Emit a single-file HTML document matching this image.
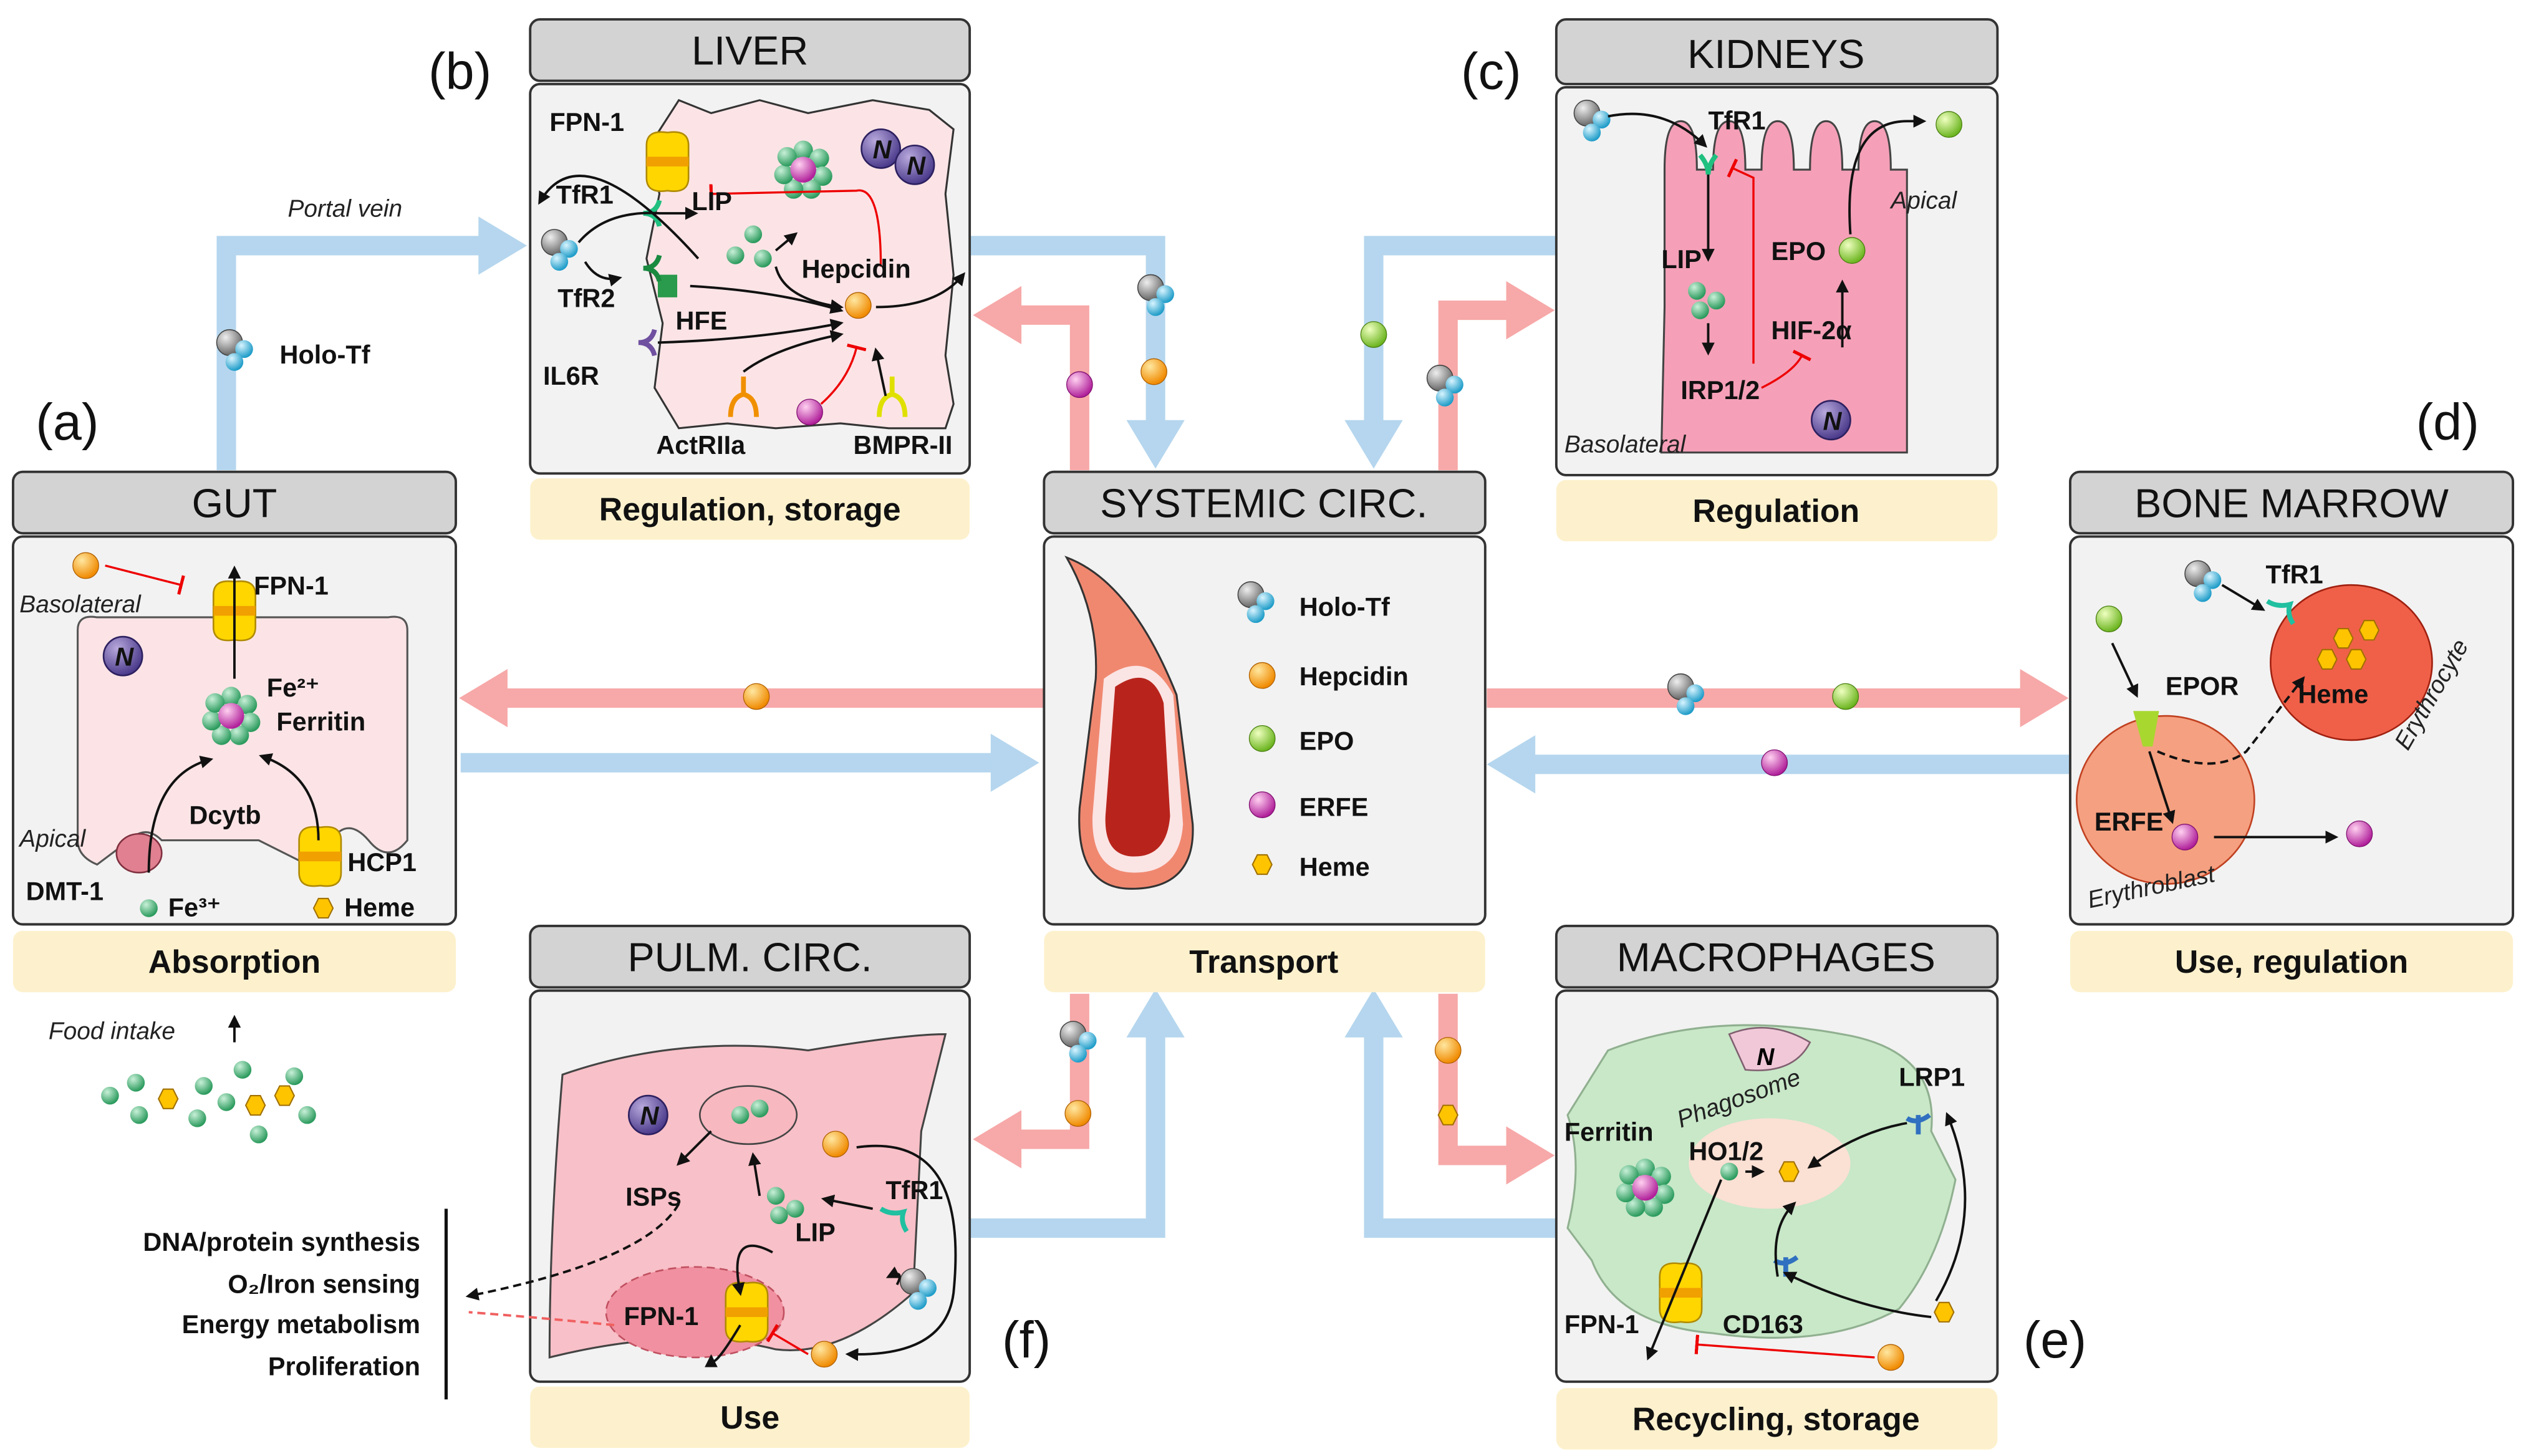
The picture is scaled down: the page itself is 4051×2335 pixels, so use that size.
<!DOCTYPE html>
<html><head><meta charset="utf-8"><style>
html,body{margin:0;padding:0;background:#fff}
svg{display:block}
text{font-family:"Liberation Sans",sans-serif}
.h{font-size:25px;fill:#111;text-anchor:middle}
.l{font-size:20px;font-weight:bold;fill:#111;text-anchor:middle}
.t{font-size:16px;font-weight:bold;fill:#111}
.i{font-size:15px;font-style:italic;fill:#222}
.p{font-size:32px;fill:#111}
</style></head><body>
<svg width="4051" height="2335" viewBox="0 0 1563 901" xmlns="http://www.w3.org/2000/svg">
<defs>
<radialGradient id="gG" cx="35%" cy="30%" r="70%"><stop offset="0" stop-color="#eee"/><stop offset="1" stop-color="#666"/></radialGradient>
<radialGradient id="gB" cx="35%" cy="30%" r="70%"><stop offset="0" stop-color="#d8f4ff"/><stop offset="1" stop-color="#1e9cc8"/></radialGradient>
<radialGradient id="gO" cx="35%" cy="30%" r="70%"><stop offset="0" stop-color="#ffe7a0"/><stop offset="1" stop-color="#f08a00"/></radialGradient>
<radialGradient id="gE" cx="35%" cy="30%" r="70%"><stop offset="0" stop-color="#efffc0"/><stop offset="1" stop-color="#6cb520"/></radialGradient>
<radialGradient id="gM" cx="35%" cy="30%" r="70%"><stop offset="0" stop-color="#ffd0f0"/><stop offset="1" stop-color="#b0209a"/></radialGradient>
<radialGradient id="gF" cx="35%" cy="30%" r="70%"><stop offset="0" stop-color="#c8f0d8"/><stop offset="1" stop-color="#2a9a5c"/></radialGradient>
<radialGradient id="gN" cx="35%" cy="30%" r="70%"><stop offset="0" stop-color="#b8a8dc"/><stop offset="1" stop-color="#4c3c8c"/></radialGradient>
<g id="holo"><circle cx="0" cy="0" r="8" fill="url(#gG)" stroke="#444" stroke-width=".6"/><circle cx="9" cy="4" r="5.5" fill="url(#gB)"/><circle cx="3" cy="12" r="5.5" fill="url(#gB)"/></g>
<g id="hep"><circle r="8" fill="url(#gO)" stroke="#b06000" stroke-width=".5"/></g>
<g id="epo"><circle r="8" fill="url(#gE)" stroke="#4a8010" stroke-width=".5"/></g>
<g id="erfe"><circle r="8" fill="url(#gM)" stroke="#801070" stroke-width=".5"/></g>
<g id="heme"><polygon points="-6,0 -3,-6 3,-6 6,0 3,6 -3,6" fill="#ffc400" stroke="#a07000" stroke-width=".8"/></g>
<g id="fe"><circle r="5.5" fill="url(#gF)"/></g>
<g id="ferr"><circle cx="0" cy="-12" r="6" fill="url(#gF)"/><circle cx="10" cy="-7" r="6" fill="url(#gF)"/><circle cx="12" cy="4" r="6" fill="url(#gF)"/><circle cx="5" cy="12" r="6" fill="url(#gF)"/><circle cx="-6" cy="12" r="6" fill="url(#gF)"/><circle cx="-12" cy="3" r="6" fill="url(#gF)"/><circle cx="-10" cy="-8" r="6" fill="url(#gF)"/><circle r="8" fill="url(#gM)"/></g>
<g id="nuc"><ellipse rx="12" ry="12" fill="url(#gN)" stroke="#2c2060"/><text x="-5" y="6" font-size="16" font-weight="bold" font-style="italic" fill="#111">N</text></g>
<g id="fpn"><path d="M-13,-10 Q-13,-20 0,-18 Q13,-20 13,-10 L13,10 Q13,20 0,18 Q-13,20 -13,10Z" fill="#ffd600" stroke="#b08a00"/><rect x="-13" y="-3" width="26" height="6" fill="#f0a000"/></g>
<marker id="ah" markerWidth="8" markerHeight="8" refX="6" refY="4" orient="auto" markerUnits="userSpaceOnUse"><path d="M0,0 L8,4 L0,8Z" fill="#111"/></marker>
<marker id="tb" markerWidth="2" markerHeight="12" refX="1" refY="6" orient="auto" markerUnits="userSpaceOnUse"><rect width="2" height="12" fill="#e00"/></marker>
</defs>

<!-- big arrows -->
<g fill="none" stroke-width="12">
<path d="M140,291 V152 H300" stroke="#b5d6ee"/>
<path d="M600,152 H715 V262" stroke="#b5d6ee"/>
<path d="M668,291 V195 H630" stroke="#f7a8a8"/>
<path d="M963,152 H850 V262" stroke="#b5d6ee"/>
<path d="M896,291 V192 H935" stroke="#f7a8a8"/>
<path d="M646,432 H312" stroke="#f7a8a8"/>
<path d="M285,472 H615" stroke="#b5d6ee"/>
<path d="M920,432 H1252" stroke="#f7a8a8"/>
<path d="M1281,473 H948" stroke="#b5d6ee"/>
<path d="M668,615 V705 H630" stroke="#f7a8a8"/>
<path d="M600,760 H715 V640" stroke="#b5d6ee"/>
<path d="M896,615 V715 H935" stroke="#f7a8a8"/>
<path d="M963,760 H850 V640" stroke="#b5d6ee"/>
</g>
<g>
<polygon points="296,134 326,152 296,170" fill="#b5d6ee"/>
<polygon points="697,260 733,260 715,290" fill="#b5d6ee"/>
<polygon points="632,177 602,195 632,213" fill="#f7a8a8"/>
<polygon points="832,260 868,260 850,290" fill="#b5d6ee"/>
<polygon points="932,174 962,192 932,210" fill="#f7a8a8"/>
<polygon points="314,414 284,432 314,450" fill="#f7a8a8"/>
<polygon points="613,454 643,472 613,490" fill="#b5d6ee"/>
<polygon points="1250,414 1280,432 1250,450" fill="#f7a8a8"/>
<polygon points="950,455 920,473 950,491" fill="#b5d6ee"/>
<polygon points="632,687 602,705 632,723" fill="#f7a8a8"/>
<polygon points="697,642 715,612 733,642" fill="#b5d6ee"/>
<polygon points="932,697 962,715 932,733" fill="#f7a8a8"/>
<polygon points="832,642 850,612 868,642" fill="#b5d6ee"/>
</g>
<text x="178" y="134" class="i" font-size="17">Portal vein</text>
<use href="#holo" x="142" y="212"/><text x="173" y="225" class="t" font-size="18">Holo-Tf</text>
<use href="#holo" x="712" y="178"/><use href="#erfe" x="668" y="238"/><use href="#hep" x="714" y="230"/>
<use href="#epo" x="850" y="207"/><use href="#holo" x="891" y="234"/>
<use href="#hep" x="468" y="431"/>
<use href="#holo" x="1040" y="425"/><use href="#epo" x="1142" y="431"/><use href="#erfe" x="1098" y="472"/>
<use href="#holo" x="664" y="640"/><use href="#hep" x="667" y="689"/>
<use href="#hep" x="896" y="650"/><use href="#heme" x="896" y="690"/>

<!-- panel letters -->
<text x="265" y="55" class="p">(b)</text>
<text x="904" y="55" class="p">(c)</text>
<text x="22" y="272" class="p">(a)</text>
<text x="1495" y="272" class="p">(d)</text>
<text x="620" y="840" class="p">(f)</text>
<text x="1252" y="840" class="p">(e)</text>

<!-- panels -->
<g stroke="#333" stroke-width="1.5">
<rect x="328" y="12" width="272" height="38" rx="6" fill="#d3d3d3"/>
<rect x="328" y="52" width="272" height="241" rx="6" fill="#f2f2f2"/>
<rect x="963" y="12" width="273" height="40" rx="6" fill="#d3d3d3"/>
<rect x="963" y="54" width="273" height="240" rx="6" fill="#f2f2f2"/>
<rect x="8" y="292" width="274" height="38" rx="6" fill="#d3d3d3"/>
<rect x="8" y="332" width="274" height="240" rx="6" fill="#f2f2f2"/>
<rect x="646" y="292" width="273" height="38" rx="6" fill="#d3d3d3"/>
<rect x="646" y="332" width="273" height="240" rx="6" fill="#f2f2f2"/>
<rect x="1281" y="292" width="274" height="38" rx="6" fill="#d3d3d3"/>
<rect x="1281" y="332" width="274" height="240" rx="6" fill="#f2f2f2"/>
<rect x="328" y="573" width="272" height="38" rx="6" fill="#d3d3d3"/>
<rect x="328" y="613" width="272" height="242" rx="6" fill="#f2f2f2"/>
<rect x="963" y="573" width="273" height="38" rx="6" fill="#d3d3d3"/>
<rect x="963" y="613" width="273" height="242" rx="6" fill="#f2f2f2"/>
</g>
<g fill="#fdf1cd">
<rect x="328" y="296" width="272" height="38" rx="6"/>
<rect x="963" y="297" width="273" height="38" rx="6"/>
<rect x="8" y="576" width="274" height="38" rx="6"/>
<rect x="646" y="576" width="273" height="38" rx="6"/>
<rect x="1281" y="576" width="274" height="38" rx="6"/>
<rect x="328" y="858" width="272" height="38" rx="6"/>
<rect x="963" y="859" width="273" height="38" rx="6"/>
</g>
<text x="464" y="40" class="h">LIVER</text>
<text x="1099" y="42" class="h">KIDNEYS</text>
<text x="145" y="320" class="h">GUT</text>
<text x="782" y="320" class="h">SYSTEMIC CIRC.</text>
<text x="1418" y="320" class="h">BONE MARROW</text>
<text x="464" y="601" class="h">PULM. CIRC.</text>
<text x="1099" y="601" class="h">MACROPHAGES</text>
<text x="464" y="322" class="l">Regulation, storage</text>
<text x="1099" y="323" class="l">Regulation</text>
<text x="145" y="602" class="l">Absorption</text>
<text x="782" y="602" class="l">Transport</text>
<text x="1418" y="602" class="l">Use, regulation</text>
<text x="464" y="884" class="l">Use</text>
<text x="1099" y="885" class="l">Recycling, storage</text>

<!-- LIVER content -->
<path d="M420,62 L440,70 L470,62 L500,70 L540,62 L575,68 L590,80 L585,120 L590,170 L585,220 L590,250 L585,265 L550,265 L520,262 L480,265 L450,262 L420,265 L405,240 L410,200 L400,160 L408,120 L402,90Z" fill="#fce4e6" stroke="#333" stroke-width="1.2"/>
<use href="#fpn" x="413" y="100"/>
<use href="#ferr" x="497" y="105"/>
<use href="#nuc" x="545" y="92"/><use href="#nuc" x="566" y="102"/>
<use href="#holo" x="343" y="150"/>
<use href="#fe" x="466" y="145"/><use href="#fe" x="455" y="158"/><use href="#fe" x="472" y="160"/>
<use href="#hep" x="531" y="189"/>
<rect x="407" y="170" width="12" height="14" fill="#2a9a4c"/>
<use href="#erfe" x="501" y="255"/>
<g fill="none" stroke-width="3"><path d="M398,132 q8,0 10,-8 M398,132 q8,0 10,8" stroke="#20c080"/><path d="M398,166 q8,0 10,-8 M398,166 q8,0 10,8" stroke="#1a8a40"/><path d="M395,212 q8,0 10,-8 M395,212 q8,0 10,8" stroke="#7050a0"/><path d="M460,245 v-12 M452,258 q0,-12 8,-14 q8,2 8,14" stroke="#f09000"/><path d="M552,245 v-12 M544,258 q0,-12 8,-14 q8,2 8,14" stroke="#e0e000"/></g>
<g fill="none" stroke="#111" stroke-width="1.5" marker-end="url(#ah)">
<path d="M432,160 Q360,80 334,125"/><path d="M358,150 Q375,130 408,132 L430,132"/><path d="M362,162 Q370,175 383,172"/>
<path d="M427,177 Q480,180 520,192"/><path d="M407,212 Q470,210 520,200"/><path d="M460,230 Q480,215 520,207"/>
<path d="M480,165 Q485,185 520,190"/><path d="M480,155 L492,145"/><path d="M542,190 Q580,190 596,170"/><path d="M548,245 L542,217"/>
</g>
<path d="M545,165 Q545,115 530,118 L440,120" fill="none" stroke="#e00" stroke-width="1.3" marker-end="url(#tb)"/>
<path d="M508,250 Q525,235 530,215" fill="none" stroke="#e00" stroke-width="1.3" marker-end="url(#tb)"/>
<text x="340" y="81" class="t">FPN-1</text><text x="344" y="126" class="t">TfR1</text><text x="428" y="130" class="t">LIP</text>
<text x="345" y="190" class="t">TfR2</text><text x="418" y="204" class="t">HFE</text><text x="496" y="172" class="t">Hepcidin</text>
<text x="336" y="238" class="t">IL6R</text><text x="406" y="281" class="t">ActRIIa</text><text x="528" y="281" class="t">BMPR-II</text>

<!-- KIDNEY content -->
<path d="M1030,105 Q1030,75 1040,75 Q1050,75 1050,105 L1060,105 Q1060,75 1070,75 Q1080,75 1080,105 L1090,105 Q1090,75 1100,75 Q1110,75 1110,105 L1120,105 Q1120,75 1130,75 Q1140,75 1140,105 L1150,105 Q1150,75 1160,75 Q1170,75 1170,105 L1180,105 L1180,280 L1028,280 L1030,190Z" fill="#f5a0b8" stroke="#444" stroke-width="1.2"/>
<use href="#holo" x="982" y="70"/><use href="#epo" x="1206" y="77"/><use href="#epo" x="1146" y="155"/>
<use href="#fe" x="1050" y="180"/><use href="#fe" x="1062" y="186"/><use href="#fe" x="1052" y="192"/>
<use href="#nuc" x="1133" y="260"/>
<g fill="none" stroke="#111" stroke-width="1.5" marker-end="url(#ah)"><path d="M995,72 Q1030,65 1055,90"/><path d="M1057,105 L1057,160"/><path d="M1057,200 L1057,218"/><path d="M1140,215 L1140,175"/><path d="M1145,145 Q1140,75 1180,75 L1190,75"/></g>
<path d="M1085,225 L1085,110 L1072,104" fill="none" stroke="#e00" stroke-width="1.3" marker-end="url(#tb)"/>
<path d="M1090,240 Q1110,230 1115,220" fill="none" stroke="#e00" stroke-width="1.3" marker-end="url(#tb)"/>
<path d="M1052,96 q5,6 5,12 q0,-6 5,-12" stroke="#20c080" stroke-width="3" fill="none"/>
<text x="1057" y="80" class="t">TfR1</text><text x="1028" y="166" class="t">LIP</text><text x="1096" y="161" class="t">EPO</text>
<text x="1096" y="210" class="t">HIF-2α</text><text x="1040" y="247" class="t">IRP1/2</text>
<text x="1170" y="129" class="i">Apical</text><text x="968" y="280" class="i">Basolateral</text>

<!-- GUT content -->
<path d="M48,390 Q48,380 60,382 L240,382 Q252,380 252,390 L252,520 Q240,535 228,520 Q215,505 205,520 L190,535 Q170,525 160,520 L100,520 Q90,510 80,520 L60,535 Q48,530 48,520Z" fill="#fce4e6" stroke="#555" stroke-width="1.2"/>
<use href="#hep" x="53" y="350"/><path d="M65,350 L112,362" stroke="#e00" stroke-width="1.3" marker-end="url(#tb)"/>
<use href="#fpn" x="145" y="378"/><use href="#fpn" x="198" y="530"/>
<use href="#nuc" x="76" y="406"/><use href="#ferr" x="143" y="443"/>
<ellipse cx="86" cy="528" rx="14" ry="12" fill="#e08090" stroke="#803040"/>
<use href="#fe" x="92" y="562"/><use href="#heme" x="200" y="562"/>
<g fill="none" stroke="#111" stroke-width="1.5" marker-end="url(#ah)"><path d="M145,420 L145,352"/><path d="M92,540 Q92,480 130,470"/><path d="M197,520 Q197,480 162,468"/><path d="M145,645 L145,630"/></g>
<text x="157" y="368" class="t">FPN-1</text><text x="165" y="431" class="t">Fe²⁺</text><text x="171" y="452" class="t">Ferritin</text>
<text x="117" y="510" class="t">Dcytb</text><text x="16" y="557" class="t">DMT-1</text><text x="104" y="567" class="t">Fe³⁺</text>
<text x="215" y="539" class="t">HCP1</text><text x="213" y="567" class="t">Heme</text>
<text x="12" y="379" class="i">Basolateral</text><text x="12" y="524" class="i">Apical</text>
<text x="30" y="643" class="i" font-size="16">Food intake</text>
<g><use href="#fe" x="68" y="678"/><use href="#fe" x="84" y="670"/><use href="#fe" x="86" y="690"/><use href="#heme" x="104" y="680"/><use href="#fe" x="126" y="672"/><use href="#fe" x="122" y="692"/><use href="#fe" x="140" y="682"/><use href="#heme" x="158" y="684"/><use href="#heme" x="176" y="678"/><use href="#fe" x="160" y="702"/><use href="#fe" x="182" y="666"/><use href="#fe" x="190" y="690"/><use href="#fe" x="150" y="662"/></g>

<!-- SYSTEMIC content -->
<path d="M660,345 Q700,360 728,430 L738,510 Q740,550 700,550 Q665,550 668,500 L678,420 Q680,380 660,345Z" fill="#f08870" stroke="#333" stroke-width="1.2"/>
<path d="M683,420 Q710,400 726,430 L732,510 Q730,540 702,540 Q675,540 676,505Z" fill="#fbe4e4"/>
<path d="M690,425 Q712,410 720,435 L724,505 Q722,530 702,530 Q683,530 684,505Z" fill="#b8241c"/>
<use href="#holo" x="774" y="368"/><text x="804" y="381" class="t" font-size="18">Holo-Tf</text>
<use href="#hep" x="781" y="418"/><text x="804" y="424" class="t" font-size="18">Hepcidin</text>
<use href="#epo" x="781" y="457"/><text x="804" y="464" class="t" font-size="18">EPO</text>
<use href="#erfe" x="781" y="498"/><text x="804" y="505" class="t" font-size="18">ERFE</text>
<use href="#heme" x="781" y="535"/><text x="804" y="542" class="t" font-size="18">Heme</text>

<!-- BONE MARROW content -->
<ellipse cx="1455" cy="410" rx="50" ry="48" fill="#f06048" stroke="#a02010"/>
<ellipse cx="1340" cy="495" rx="55" ry="52" fill="#f5a080" stroke="#c04020"/>
<use href="#holo" x="1360" y="355"/><use href="#epo" x="1305" y="383"/><use href="#erfe" x="1352" y="518"/><use href="#erfe" x="1460" y="516"/>
<g><use href="#heme" x="1450" y="395"/><use href="#heme" x="1466" y="390"/><use href="#heme" x="1458" y="408"/><use href="#heme" x="1440" y="408"/></g>
<path d="M1403,372 q6,4 14,2 q-2,6 2,12" stroke="#20c0a0" stroke-width="3" fill="none"/>
<polygon points="1320,440 1336,440 1332,462 1326,462" fill="#a8d830"/>
<g fill="none" stroke="#111" stroke-width="1.5" marker-end="url(#ah)"><path d="M1375,362 L1400,377"/><path d="M1307,398 L1322,430"/><path d="M1330,465 L1344,508"/><path d="M1370,518 L1445,518"/></g>
<path d="M1335,465 Q1370,480 1390,465 L1425,420" fill="none" stroke="#111" stroke-width="1.5" stroke-dasharray="5,3" marker-end="url(#ah)"/>
<text x="1402" y="361" class="t">TfR1</text><text x="1340" y="430" class="t">EPOR</text><text x="1422" y="435" class="t">Heme</text>
<text x="1296" y="514" class="t">ERFE</text>
<text x="1293" y="562" class="i" transform="rotate(-12 1293 562)">Erythroblast</text>
<text x="1490" y="465" class="i" transform="rotate(-60 1490 465)">Erythrocyte</text>

<!-- PULM content -->
<path d="M348,665 Q420,640 500,650 Q560,640 585,640 L570,700 L565,800 Q520,840 480,835 Q420,820 340,840 Q340,760 348,665Z" fill="#f8c0c8" stroke="#444" stroke-width="1.2"/>
<ellipse cx="430" cy="812" rx="55" ry="28" fill="#f090a0" stroke="#c05060" stroke-dasharray="5,3"/>
<ellipse cx="463" cy="690" rx="30" ry="18" fill="#f7b8c0" stroke="#444"/>
<use href="#nuc" x="401" y="690"/>
<use href="#fe" x="458" y="690"/><use href="#fe" x="470" y="686"/><use href="#fe" x="480" y="740"/><use href="#fe" x="492" y="748"/><use href="#fe" x="482" y="752"/>
<use href="#hep" x="517" y="708"/><use href="#hep" x="510" y="838"/><use href="#holo" x="565" y="793"/>
<use href="#fpn" x="462" y="812"/>
<path d="M545,748 q6,4 14,2 q-2,6 2,12" stroke="#20c0a0" stroke-width="3" fill="none"/>
<g fill="none" stroke="#111" stroke-width="1.5" marker-end="url(#ah)"><path d="M440,700 L420,720"/><path d="M470,740 L466,715"/><path d="M540,748 L510,742"/><path d="M530,710 Q600,700 590,800 Q585,840 525,838"/><path d="M555,795 Q560,785 550,790"/><path d="M478,775 Q450,760 458,800"/><path d="M458,820 Q440,850 440,840"/></g>
<path d="M500,838 L478,825" stroke="#e00" stroke-width="1.3" marker-end="url(#tb)" fill="none"/>
<path d="M420,745 Q400,780 290,802" fill="none" stroke="#111" stroke-width="1.5" stroke-dasharray="5,3" marker-end="url(#ah)"/>
<path d="M380,820 Q330,815 290,812" fill="none" stroke="#f06060" stroke-width="1.5" stroke-dasharray="5,3"/>
<text x="387" y="746" class="t">ISPs</text><text x="492" y="768" class="t">LIP</text><text x="548" y="742" class="t">TfR1</text><text x="386" y="820" class="t">FPN-1</text>
<line x1="276" y1="748" x2="276" y2="866" stroke="#111" stroke-width="2"/>
<g class="t" font-size="17" text-anchor="end"><text x="260" y="774" text-anchor="end">DNA/protein synthesis</text><text x="260" y="800" text-anchor="end">O₂/Iron sensing</text><text x="260" y="825" text-anchor="end">Energy metabolism</text><text x="260" y="851" text-anchor="end">Proliferation</text></g>

<!-- MACROPHAGE content -->
<path d="M995,650 Q1060,625 1140,640 Q1200,650 1195,700 L1210,730 Q1200,780 1175,810 Q1130,835 1060,825 Q1000,820 985,780 L970,760 Q980,720 970,690Z" fill="#c8e8c8" stroke="#90b090" stroke-width="1.2"/>
<ellipse cx="1095" cy="720" rx="50" ry="28" fill="#fbe0d4"/>
<path d="M1070,640 Q1095,630 1120,645 Q1110,665 1080,662Z" fill="#f0c8d8" stroke="#806070"/>
<text x="1087" y="659" font-size="15" font-weight="bold" font-style="italic">N</text>
<use href="#ferr" x="1018" y="735"/><use href="#fe" x="1070" y="725"/><use href="#heme" x="1107" y="725"/><use href="#heme" x="1203" y="812"/>
<use href="#hep" x="1170" y="840"/><use href="#fpn" x="1040" y="800"/>
<path d="M1180,692 q6,4 14,-2 M1187,690 v12" stroke="#3070c0" stroke-width="3" fill="none"/>
<path d="M1098,780 q6,4 14,-2 M1105,778 v12" stroke="#3070c0" stroke-width="3" fill="none"/>
<g fill="none" stroke="#111" stroke-width="1.5" marker-end="url(#ah)"><path d="M1180,695 Q1150,700 1120,722"/><path d="M1198,805 Q1230,750 1205,690"/><path d="M1195,815 Q1150,810 1105,788"/><path d="M1100,790 Q1095,760 1110,745"/><path d="M1065,730 L1020,840"/><path d="M1080,725 L1090,725"/></g>
<path d="M1160,840 L1050,832" stroke="#e00" stroke-width="1.3" marker-end="url(#tb)" fill="none"/>
<text x="1045" y="718" class="t">HO1/2</text><text x="968" y="706" class="t">Ferritin</text><text x="1175" y="672" class="t">LRP1</text>
<text x="1066" y="825" class="t">CD163</text><text x="968" y="825" class="t">FPN-1</text>
<text x="1040" y="698" class="i" transform="rotate(-20 1040 698)">Phagosome</text>
</svg>
</body></html>
